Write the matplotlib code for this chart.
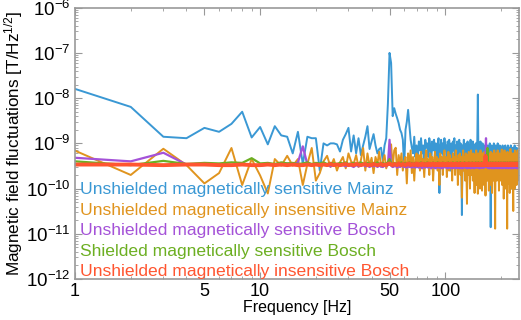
import matplotlib
matplotlib.use("Agg")
import matplotlib.pyplot as plt
import numpy as np

plt.rcParams['font.family'] = ['Liberation Sans', 'DejaVu Sans']
plt.rcParams['mathtext.default'] = 'regular'

# frequency bins [Hz], 1 Hz resolution
freq = np.arange(1, 251)

# spectra in units of 1e-10 T/Hz^1/2, one row = 10 bins
mainz_sens = [
    160, 64, 14, 13, 22, 18, 27, 50, 13.5, 23,
    9.5, 24, 15, 14, 6, 18, 3.5, 14, 13, 13,
    2.5, 10, 9, 10, 10, 9.5, 6.6, 12, 16, 22,
    6.6, 15, 6, 13, 5.5, 9, 14, 24, 7.5, 11,
    16, 9, 6, 7.5, 8, 4, 9, 13, 76, 1000,
    600, 40, 60, 45, 36, 28, 20, 17, 12, 3,
    20, 30, 55, 25, 12, 8, 6, 14, 5, 9,
    4, 11, 7, 13, 6, 9, 3, 12, 8, 10,
    5, 13, 9, 3.5, 11, 7, 12, 6, 10, 4,
    9, 13, 0.8, 8, 12, 6, 10, 4, 13, 7,
    9, 3, 11, 6, 12, 8, 2.5, 10, 5, 11,
    7, 13, 4, 9, 6, 11, 3, 8, 12, 5,
    10, 7, 0.26, 9, 6, 12, 4, 8, 3, 10,
    7, 11, 5, 9, 2, 8, 12, 6, 9, 4,
    11, 7, 3, 9, 6, 10, 5, 8, 12, 120,
    7, 4, 9, 6, 11, 3, 8, 5, 10, 7,
    4, 9, 6, 2, 8, 11, 5, 7, 3, 9,
    6, 8, 4, 10, 5, 0.14, 7, 9, 3, 6,
    8, 5, 10, 4, 7, 2, 9, 6, 8, 3,
    7, 10, 5, 8, 2.5, 6, 9, 4, 7, 5,
    8, 3, 6, 9, 5, 7, 1.5, 8, 4, 6,
    9, 5, 7, 3, 8, 6, 4, 9, 2, 7,
    5, 8, 6, 3, 7, 9, 4, 6, 1, 8,
    5, 7, 3, 6, 8, 4, 9, 5, 2, 7,
    6, 4, 8, 5, 3, 7, 6, 2, 5, 4,
]
mainz_insens = [
    6.9, 2.0, 7.6, 3.3, 1.3, 2.2, 7.9, 1.2, 4.5, 1.95,
    0.78, 4.5, 3.2, 5.3, 3.2, 4.5, 1.2, 3.5, 7.9, 1.5,
    2.2, 4, 5.3, 3, 4.5, 2.5, 3.8, 5, 2.8, 6,
    4, 3.5, 5.5, 3, 4.2, 7.9, 2.5, 6, 3.2, 4.8,
    2.2, 5, 3.5, 6.5, 3, 4, 5.5, 2.8, 3.8, 4.5,
    9.5, 3, 7, 8, 2, 5.5, 3.5, 6, 2.5, 4,
    5, 1.3, 6, 3, 7, 2.2, 5, 1.5, 4.5, 6,
    3, 5.5, 2.5, 6.5, 3.5, 4.5, 1.8, 5, 7, 3,
    4.5, 2, 6, 3.5, 5, 1.5, 4, 6.5, 3, 5,
    2.5, 4.5, 1.2, 6, 3.5, 5, 2, 4, 7, 3,
    5, 1.8, 4, 6.5, 2.5, 5.5, 3, 4.5, 1.5, 6,
    3.5, 5, 2, 7, 3, 4.5, 1.2, 5.5, 3, 6,
    2, 5, 0.63, 4, 7, 2.5, 5, 1.5, 6, 3,
    0.46, 5.5, 2, 6.5, 3.5, 1, 5, 7, 2, 4.5,
    1.5, 6, 3, 0.8, 5.5, 2.5, 7, 1.2, 4, 0.77,
    6, 2, 5, 1, 7, 3, 4.5, 0.9, 6, 2.5,
    5, 1.2, 6.5, 3, 0.7, 5.5, 2, 7, 1.5, 4,
    6, 0.9, 3.5, 5.5, 1.2, 6.5, 2.5, 4.5, 0.8, 6,
    3, 5, 1.5, 7, 2, 0.13, 5.5, 3, 6, 1.5,
    4.5, 7, 2, 5, 0.9, 6, 3, 1.5, 5.5, 3.5,
    6, 7.3, 1.2, 5, 2.5, 6.5, 0.6, 4, 7, 2,
    5.5, 1, 6, 3, 4.5, 0.13, 6.5, 2, 5, 1.3,
    6, 3, 0.8, 5, 7.5, 2, 4.5, 1, 6, 3.5,
    5, 1.5, 0.32, 6, 2.5, 5.5, 1, 7, 3, 4.5,
    2, 6, 1.2, 5.5, 3, 7, 1.5, 4, 6, 2.5,
]
bosch_sens = [
    4.8, 4.0, 6.2, 3.4, 3.6, 3.4, 3.3, 3.5, 3.3, 3.2,
    3.4, 3.3, 3.5, 3.6, 3.4, 3.8, 8.6, 3.4, 3.3, 3.5,
    3.2, 3.4, 3.3, 3.1, 3.3, 3.4, 3.2, 3.3, 3.1, 3.3,
    3.2, 3.0, 3.3, 3.1, 3.2, 3.4, 3.1, 3.2, 3.0, 3.2,
    3.1, 3.3, 3.0, 3.2, 3.1, 3.0, 3.2, 3.1, 3.3, 12,
    3.2, 3.0, 3.1, 3.2, 2.9, 3.1, 3.0, 3.2, 3.1, 3.0,
    3.1, 2.9, 3.2, 3.0, 3.1, 2.9, 3.0, 3.2, 2.9, 3.1,
    3.0, 2.9, 3.1, 3.0, 2.8, 3.1, 3.0, 2.9, 3.1, 3.0,
    2.9, 3.1, 3.0, 2.8, 3.0, 3.1, 2.9, 3.0, 2.8, 3.0,
    3.1, 2.9, 3.0, 2.9, 3.1, 2.8, 3.0, 2.9, 3.1, 3.0,
    2.9, 3.0, 2.8, 3.1, 2.9, 3.0, 2.9, 3.1, 2.8, 3.0,
    2.9, 3.0, 3.1, 2.8, 3.0, 2.9, 3.1, 2.9, 3.0, 2.8,
    3.0, 2.9, 3.1, 2.8, 3.0, 2.9, 3.0, 3.1, 2.9, 3.0,
    2.8, 3.0, 2.9, 3.1, 2.9, 3.0, 2.8, 3.1, 2.9, 3.0,
    2.9, 3.1, 2.8, 3.0, 2.9, 3.0, 3.1, 2.9, 3.0, 3.2,
    2.9, 3.0, 2.8, 3.1, 2.9, 3.0, 2.9, 3.1, 3.0, 2.9,
    3.0, 2.9, 3.1, 3.0, 4.5, 13, 4.0, 3.0, 2.9, 3.1,
    2.9, 3.0, 2.8, 3.1, 2.9, 3.0, 2.9, 3.1, 2.8, 3.0,
    3.1, 2.9, 3.0, 2.8, 3.0, 2.9, 3.1, 3.0, 2.9, 3.0,
    2.8, 3.0, 2.9, 3.1, 2.9, 3.0, 2.8, 3.1, 2.9, 3.0,
    3.0, 2.9, 3.1, 2.8, 3.0, 2.9, 3.0, 3.1, 2.9, 3.0,
    2.9, 3.1, 2.8, 3.0, 2.9, 3.0, 3.1, 2.9, 3.0, 2.8,
    3.0, 2.9, 3.1, 3.0, 2.9, 3.0, 2.8, 3.1, 2.9, 3.0,
    2.9, 3.0, 2.8, 3.1, 2.9, 3.0, 2.9, 3.1, 3.0, 2.9,
    3.0, 2.9, 3.1, 2.8, 3.0, 2.9, 3.0, 3.1, 2.9, 3.0,
]
bosch_shielded = [
    4.0, 3.3, 4.1, 3.5, 3.7, 3.6, 3.8, 3.7, 4.7, 3.6,
    3.7, 3.5, 3.8, 3.6, 3.7, 3.5, 3.6, 3.8, 3.5, 3.7,
    3.6, 3.8, 3.5, 3.7, 3.6, 3.5, 3.7, 3.6, 3.8, 3.5,
    3.6, 3.7, 3.5, 3.6, 3.8, 3.6, 3.5, 3.7, 3.6, 3.5,
    3.7, 3.6, 3.8, 3.5, 3.6, 3.7, 3.5, 3.6, 3.8, 4.5,
    3.6, 3.5, 3.7, 3.6, 3.5, 3.7, 3.6, 3.8, 3.5, 3.6,
    3.7, 3.5, 3.6, 3.8, 3.5, 3.7, 3.6, 3.5, 3.7, 3.6,
    3.5, 3.7, 3.6, 3.8, 3.5, 3.6, 3.7, 3.5, 3.6, 3.8,
    3.6, 3.5, 3.7, 3.6, 3.5, 3.8, 3.6, 3.5, 3.7, 3.6,
    3.8, 3.5, 3.6, 3.7, 3.5, 3.6, 3.8, 3.5, 3.7, 3.6,
    3.5, 3.7, 3.6, 3.8, 3.5, 3.6, 3.7, 3.5, 3.6, 3.8,
    3.6, 3.5, 3.7, 3.6, 3.5, 3.8, 3.6, 3.5, 3.7, 3.6,
    3.8, 3.5, 3.6, 3.7, 3.5, 3.6, 3.8, 3.5, 3.7, 3.6,
    3.5, 3.7, 3.6, 3.8, 3.5, 3.6, 3.7, 3.5, 3.6, 3.8,
    3.6, 3.5, 3.7, 3.6, 3.5, 3.8, 3.6, 3.5, 3.7, 3.6,
    3.8, 3.5, 3.6, 3.7, 3.5, 3.6, 3.8, 3.5, 3.7, 3.6,
    3.5, 3.7, 3.6, 3.8, 3.5, 3.6, 3.7, 4.5, 7.9, 4.2,
    3.6, 3.5, 3.7, 3.6, 3.5, 3.8, 3.6, 3.5, 3.7, 3.6,
    3.8, 3.5, 3.6, 3.7, 3.5, 3.6, 3.8, 3.5, 3.7, 3.6,
    3.5, 3.7, 3.6, 3.8, 3.5, 3.6, 3.7, 3.5, 3.6, 3.8,
    3.6, 3.5, 3.7, 3.6, 3.5, 3.8, 3.6, 3.5, 3.7, 3.6,
    3.8, 3.5, 3.6, 3.7, 3.5, 3.6, 3.8, 3.5, 3.7, 3.6,
    3.5, 3.7, 3.6, 3.8, 3.5, 3.6, 3.7, 3.5, 3.6, 3.8,
    3.6, 3.5, 3.7, 3.6, 3.5, 3.8, 3.6, 3.5, 3.7, 3.6,
    3.8, 3.5, 3.6, 3.7, 3.5, 3.6, 3.8, 3.5, 3.7, 3.6,
]
bosch_insens = [
    3.4, 3.4, 3.3, 3.4, 3.4, 3.3, 3.3, 3.4, 3.3, 3.3,
    3.4, 3.3, 3.4, 3.3, 3.4, 3.3, 3.3, 3.4, 3.3, 3.4,
    3.3, 3.4, 3.3, 3.5, 3.3, 3.4, 3.3, 3.4, 3.5, 3.3,
    3.4, 3.3, 3.5, 3.4, 3.3, 3.4, 3.5, 3.3, 3.4, 3.3,
    3.5, 3.4, 3.3, 3.4, 3.5, 3.3, 3.4, 3.3, 3.5, 3.6,
    3.4, 3.3, 3.5, 3.4, 3.3, 3.6, 3.4, 3.3, 3.5, 3.4,
    3.3, 3.5, 3.4, 3.6, 3.3, 3.4, 3.5, 3.3, 3.4, 3.6,
    3.3, 3.5, 3.4, 3.3, 3.6, 3.4, 3.3, 3.5, 3.4, 3.3,
    3.6, 3.4, 3.3, 3.5, 3.4, 3.6, 3.3, 3.4, 3.5, 3.3,
    3.4, 3.6, 3.3, 3.5, 3.4, 3.3, 3.6, 3.4, 3.5, 3.3,
    3.4, 3.3, 3.6, 3.4, 3.5, 3.3, 3.4, 3.6, 3.3, 3.5,
    3.4, 3.3, 3.5, 3.6, 3.4, 3.3, 3.5, 3.4, 3.6, 3.3,
    3.5, 3.4, 3.3, 3.6, 3.4, 3.5, 3.3, 3.4, 3.6, 3.4,
    3.3, 3.5, 3.4, 3.6, 3.3, 3.4, 3.5, 3.3, 3.6, 3.4,
    3.5, 3.3, 3.4, 3.6, 3.4, 3.3, 3.5, 3.4, 3.6, 3.3,
    3.4, 3.5, 3.3, 3.6, 3.4, 3.3, 3.5, 3.4, 3.3, 3.6,
    3.4, 3.5, 3.3, 3.4, 5.3, 3.6, 3.4, 3.3, 3.5, 3.4,
    3.6, 3.3, 3.4, 3.5, 3.3, 3.6, 3.4, 3.3, 3.5, 3.4,
    3.3, 3.6, 3.4, 3.5, 3.3, 3.4, 3.6, 3.3, 3.5, 3.4,
    3.6, 3.3, 3.4, 3.5, 3.4, 3.3, 3.6, 3.4, 3.5, 3.3,
    3.4, 3.6, 3.3, 3.5, 3.4, 3.3, 3.6, 3.4, 3.3, 3.5,
    3.4, 3.3, 3.6, 3.4, 3.5, 3.3, 3.4, 3.6, 3.3, 3.5,
    3.3, 3.4, 3.5, 3.6, 3.3, 3.4, 3.5, 3.3, 3.6, 3.4,
    3.5, 3.3, 3.4, 3.6, 3.4, 3.3, 3.5, 3.4, 3.6, 3.3,
    3.4, 3.5, 3.3, 3.6, 3.4, 3.3, 3.5, 3.4, 3.3, 3.5,
]

labels = [
    "Unshielded magnetically sensitive Mainz",
    "Unshielded magnetically insensitive Mainz",
    "Unshielded magnetically sensitive Bosch",
    "Shielded magnetically sensitive Bosch",
    "Unshielded magnetically insensitive Bosch",
]
series = [mainz_sens, mainz_insens, bosch_sens, bosch_shielded, bosch_insens]
colors = ["#3a98d4", "#e0941e", "#a452d8", "#6caf22", "#ff5530"]
widths = [1.4, 1.4, 1.6, 1.6, 2.8]

fig = plt.figure(figsize=(5.21, 3.2), dpi=100)
ax = fig.add_axes([0.144, 0.128, 0.852, 0.848])

for s, c, w, lab in zip(series, colors, widths, labels):
    ax.plot(freq, np.array(s) * 1e-10, color=c, lw=w, label=lab)

ax.set_xscale("log")
ax.set_yscale("log")
ax.set_xlim(1, 250)
ax.set_ylim(1e-12, 1e-6)
ax.set_xticks([1, 5, 10, 50, 100])
ax.set_xticklabels(["1", "5", "10", "50", "100"])
ax.set_yticks([1e-12, 1e-11, 1e-10, 1e-9, 1e-8, 1e-7, 1e-6])

ax.tick_params(which="both", direction="in", top=True, right=True,
               color="#999999", labelcolor="black")
ax.tick_params(axis="y", labelsize=13.5, pad=3)
ax.tick_params(axis="x", labelsize=13, pad=3)
ax.tick_params(which="major", length=5)
ax.tick_params(which="minor", length=2.5)
for sp in ax.spines.values():
    sp.set_color("#999999")
    sp.set_linewidth(1.2)

ax.set_xlabel("Frequency [Hz]", fontsize=11.5, labelpad=0)
ax.set_ylabel("Magnetic field fluctuations [T/Hz$^{1/2}$]", fontsize=12.3, labelpad=1)

leg = ax.legend(loc="lower left", bbox_to_anchor=(0.011, 0.0), frameon=False,
                handlelength=0, handletextpad=0, fontsize=12.6,
                labelspacing=0.3, borderaxespad=0.0, borderpad=0.0,
                labelcolor="linecolor")
for h in leg.legend_handles:
    h.set_visible(False)

fig.savefig("out.png", dpi=100)
